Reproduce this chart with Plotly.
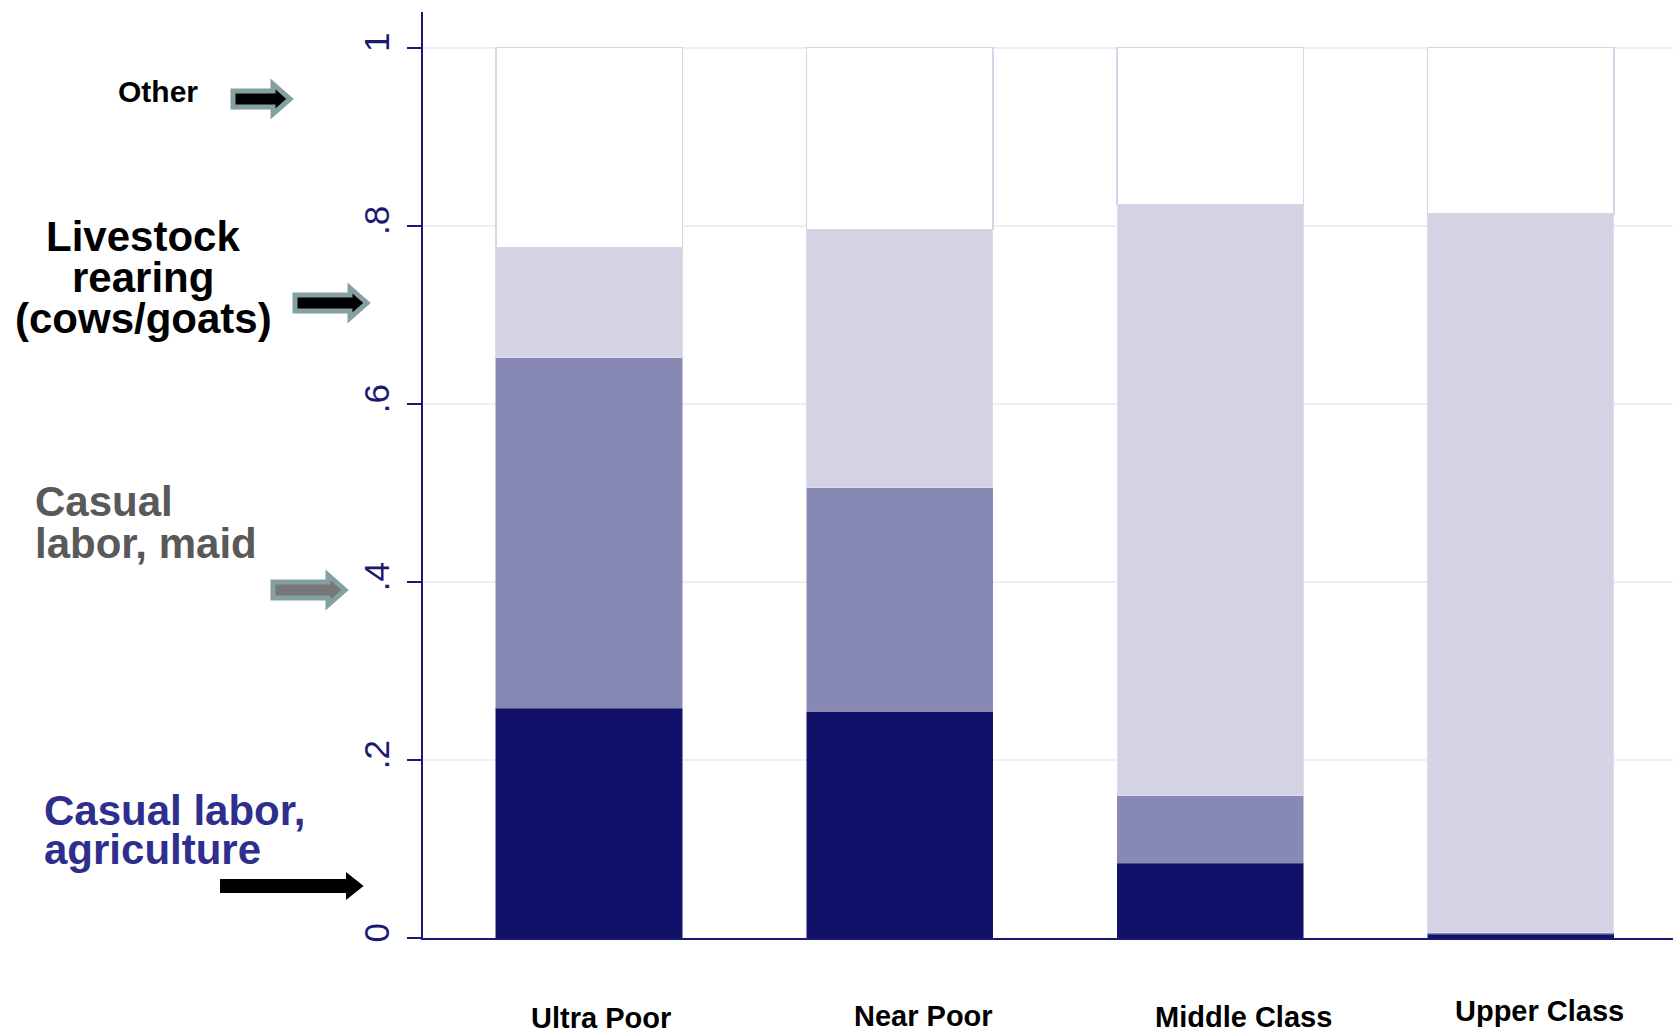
import plotly.graph_objects as go

categories = ["Ultra Poor", "Near Poor", "Middle Class", "Upper Class"]
ag_labor = [0.258, 0.254, 0.084, 0.004]
maid_labor = [0.394, 0.252, 0.076, 0.002]
livestock = [0.123, 0.290, 0.664, 0.807]
other = [0.225, 0.204, 0.176, 0.187]
ytick_vals = [0, 0.2, 0.4, 0.6, 0.8, 1]
ytick_text = ["0", ".2", ".4", ".6", ".8", "1"]

W, H = 1673, 1034
L, R, T, B = 423, 0, 12, 96
PW, PH = W - L - R, H - T - B
NAVY = "#1a1a72"
FONT = "Liberation Sans, Arial, sans-serif"

def px(x):
    return (x - L) / PW

def py(y):
    return (H - B - y) / PH

xpos = list(range(len(categories)))

fig = go.Figure()
series = [
    ("Casual labor, agriculture", ag_labor, "#11116a", "#11116a", 0.5),
    ("Casual labor, maid", maid_labor, "#8888b5", "#8a8ab8", 0.5),
    ("Livestock rearing", livestock, "#d4d3e4", "#dcdbec", 1),
    ("Other", other, "#ffffff", "#d6d5e8", 1.5),
]
for name, vals, col, lcol, lw in series:
    fig.add_trace(go.Bar(x=xpos, y=vals, name=name, width=0.6,
                         marker=dict(color=col, line=dict(color=lcol, width=lw)),
                         showlegend=False))

fig.update_layout(
    barmode="stack",
    width=W, height=H,
    margin=dict(l=L, r=R, t=T, b=B, pad=0),
    paper_bgcolor="white", plot_bgcolor="white",
    font=dict(family=FONT),
    xaxis=dict(range=[-0.535, 3.49], showticklabels=False, ticks="",
               showgrid=False, zeroline=False, showline=True,
               linecolor=NAVY, linewidth=2),
    yaxis=dict(range=[0, 1.04], tickvals=ytick_vals, ticktext=ytick_text,
               tickangle=-90, tickfont=dict(size=35, color=NAVY, family=FONT),
               ticks="outside", ticklen=14, tickwidth=2, tickcolor=NAVY,
               ticklabelstandoff=4,
               showline=True, linecolor=NAVY, linewidth=2,
               showgrid=True, gridcolor="#eeeef5", gridwidth=2,
               zeroline=False),
)

# category labels (offset slightly right and staggered as in the original)
label_px = [(601, 1026.5), (923, 1025), (1243, 1026), (1539, 1020)]
for cat, (lx, ly) in zip(categories, label_px):
    fig.add_annotation(text=f"<b>{cat}</b>", xref="paper", yref="paper",
                       x=px(lx), y=py(ly - 0.3 * 29), xanchor="center", yanchor="middle",
                       showarrow=False, font=dict(size=29, color="black", family=FONT))

def txt(s, x, baseline, size, color, anchor="center"):
    fig.add_annotation(text=f"<b>{s}</b>", xref="paper", yref="paper",
                       x=px(x), y=py(baseline - 0.33 * size), xanchor=anchor, yanchor="middle",
                       showarrow=False, font=dict(size=size, color=color, family=FONT))

txt("Other", 158, 101, 30, "black")
txt("Livestock", 143, 250, 42, "black")
txt("rearing", 143, 291, 42, "black")
txt("(cows/goats)", 143, 332, 42, "black")
txt("Casual", 33, 515, 42, "#595959", anchor="left")
txt("labor, maid", 33, 557, 42, "#595959", anchor="left")
txt("Casual labor,", 42, 824, 42, "#2e2e8e", anchor="left")
txt("agriculture", 42, 863, 42, "#2e2e8e", anchor="left")

def arrow(x0, xh, tip, yc, h1, h2, fill, lcol, lw):
    pts = [(x0, yc - h1), (xh, yc - h1), (xh, yc - h2), (tip, yc),
           (xh, yc + h2), (xh, yc + h1), (x0, yc + h1)]
    path = "M " + " L ".join(f"{px(a):.5f},{py(b):.5f}" for a, b in pts) + " Z"
    fig.add_shape(type="path", path=path, xref="paper", yref="paper",
                  fillcolor=fill, line=dict(color=lcol, width=lw), layer="above")

arrow(233, 273, 290, 99, 8, 15, "black", "#84a0a0", 5)
arrow(295, 350, 367, 303, 8, 15, "black", "#84a0a0", 5)
arrow(273, 328, 345, 590, 8, 15, "#777777", "#84a0a0", 5)
arrow(221, 347, 362, 886, 6, 12, "black", "black", 2)

fig.write_html("out.html", config={"displayModeBar": False},
               post_script="document.body.style.margin='0';document.body.style.overflow='hidden';")
